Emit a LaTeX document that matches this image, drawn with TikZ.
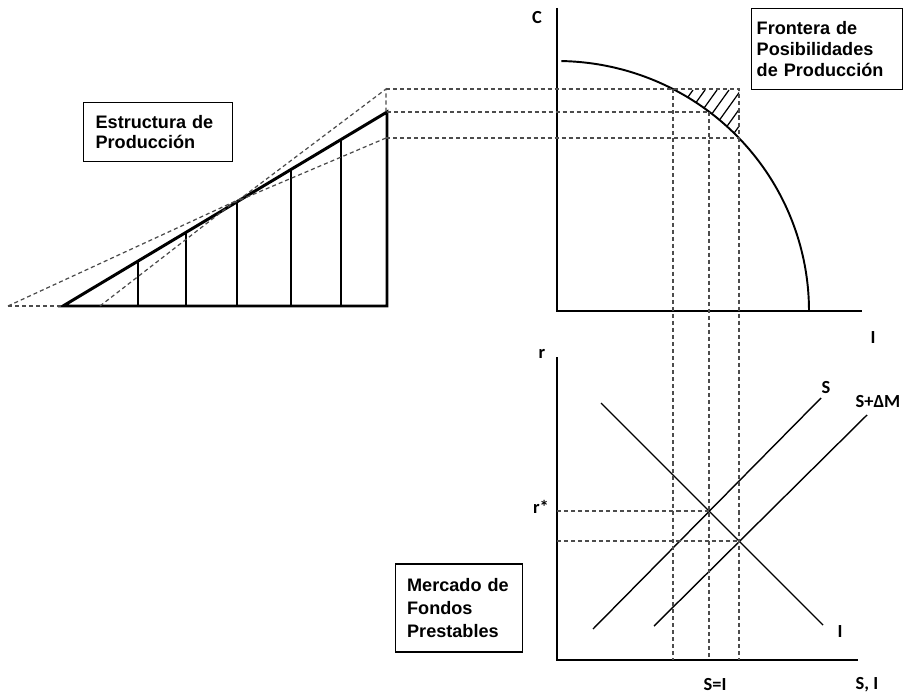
\documentclass[tikz,border=0pt]{standalone}
\usepackage{fontspec}
\setmainfont{Liberation Sans}
\newfontfamily\lblfont{Carlito}
\usepackage{tikz}
\usetikzlibrary{calc}

\tikzset{
  thickline/.style={line width=1.7pt, line join=miter},
  axisline/.style={line width=1.5pt},
  thinline/.style={line width=0.7pt},
  mktline/.style={line width=0.8pt},
  guide/.style={black!70, line width=0.7pt, dash pattern=on 2.3pt off 1.7pt},
  titlebox/.style={draw, line width=0.8pt, align=left, font=\bfseries\fontsize{10.3}{11.8}\selectfont},
  axislabel/.style={font=\lblfont\bfseries\fontsize{10.5}{12}\selectfont, inner sep=0pt}
}

\begin{document}
\begin{tikzpicture}[x=0.02cm, y=-0.02cm]
    \useasboundingbox (0,0) rectangle (906,696);

    % estructura de produccion
    \coordinate (t0) at (63,306);
    \coordinate (t1) at (387,112);
    \coordinate (t2) at (387,306);
    \draw[thickline] (t0) -- (t1) -- (t2) -- cycle;
    \foreach \xx in {138,186,237,291,341}
        \draw[thinline] (\xx,306) -- (\xx,{306-(\xx-63)/324*194});

    \coordinate (up0) at (8,306);
    \coordinate (upk) at (240,199);
    \coordinate (up1) at (386,89);
    \coordinate (lo0) at (100,306);
    \coordinate (lok) at (233,203);
    \coordinate (lo1) at (386,138);
    \draw[guide] (up0) -- (t0);
    \draw[guide] (up0) -- (upk) -- (up1) -- (386,112);
    \draw[guide] (lo0) -- (lok) -- (lo1);

    \node[titlebox, text width=71pt, inner xsep=7pt, minimum height=33.4pt] (estr) at (158,132) {Estructura de\\Producción};

    % frontera de posibilidades
    \coordinate (fo) at (557,311);
    \draw[axisline] (557,8) -- (fo) -- (862,311);
    \draw[mktline, line width=1.1pt] plot[domain=89:0, samples=60, smooth] ({557+252*cos(\x)},{311-250*sin(\x)});

    \coordinate (f1) at (673,89);
    \coordinate (f2) at (709,112);
    \coordinate (f3) at (739,138);
    \coordinate (c1) at (739,89);

    \begin{scope}
        \clip (f1) -- (c1) -- (f3) -- plot[domain=43.6:62.6, samples=20] ({557+252*cos(\x)},{311-250*sin(\x)}) -- cycle;
        \foreach \k in {0,...,9}
            \draw[thinline] ({650+12*\k},150) -- ++(43,-60);
    \end{scope}

    \draw[guide] (up1) -- (c1) -- (f3);
    \draw[guide] (t1) -- (f2);
    \draw[guide] (lo1) -- (f3);

    \node[axislabel] (lblc) at (537,18) {C};
    \node[axislabel] (lbli) at (873,338) {I};
    \node[titlebox, text width=80pt, inner xsep=3pt, minimum height=46pt] (front) at (827,49) {Frontera de\\Posibilidades\\de Producción};

    % mercado de fondos prestables
    \coordinate (mo) at (557,660);
    \draw[axisline] (557,357) -- (mo) -- (858,660);

    \coordinate (e1) at (709,511);
    \coordinate (e2) at (739,541);
    \draw[mktline] (601,403) -- (823,625);
    \draw[mktline] (593,629) -- (821,398);
    \draw[mktline] (654,626) -- (867,415);

    \draw[guide] (557,511) -- (e1);
    \draw[guide] (557,541) -- (e2);
    \draw[guide] (f1) -- (673,660);
    \draw[guide] (f2) -- (709,660);
    \draw[guide] (f3) -- (739,660);

    \node[axislabel] (lblr) at (542,354) {r};
    \node[axislabel] (lblrs) at (541,507) {r*};
    \node[axislabel] (lbls) at (826,388) {S};
    \node[axislabel] (lblsm) at (878,402) {S+ΔM};
    \node[axislabel] (lbld) at (840,632) {I};
    \node[axislabel] (lblsi) at (715,685) {S=I};
    \node[axislabel] (lblax) at (867,685) {S, I};

    \node[titlebox, font=\bfseries\fontsize{10.3}{13}\selectfont, text width=59pt, inner xsep=6.8pt, minimum height=50pt] (merc) at (459,608) {Mercado de\\Fondos\\Prestables};
\end{tikzpicture}
\end{document}
